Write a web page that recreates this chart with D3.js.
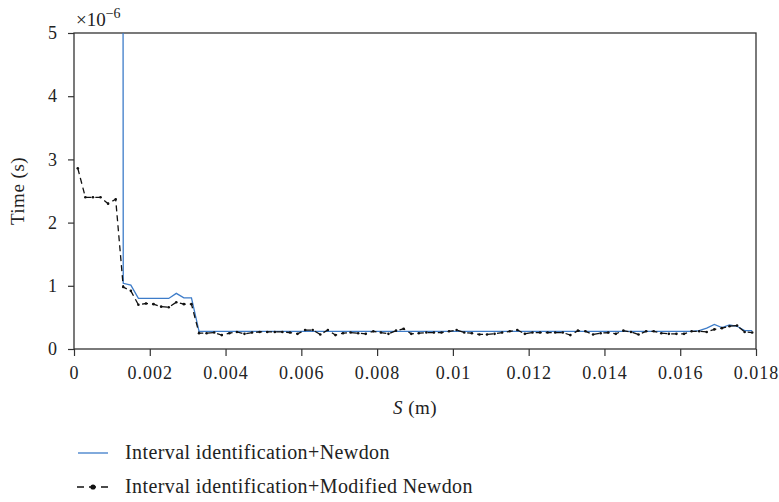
<!DOCTYPE html>
<html>
<head>
<meta charset="utf-8">
<script src="https://cdn.jsdelivr.net/npm/d3@7"></script>
<style>
body{margin:0;background:white;}
text{font-family:"Liberation Serif","DejaVu Serif",serif;fill:#222;}
</style>
</head>
<body>
<div id="chart"></div>
<script>
// S positions (m): 0.0001, 0.0003, ... 0.0179
var sValues = d3.range(90).map(function(k){return +(0.0001+0.0002*k).toFixed(4)})

// time in units of 1e-6 s, Interval identification+Newdon
var newdon = [180,176,172,170,168,165,
1.04,1.01,0.8,0.8,0.8,0.8,0.8,0.88,0.81,0.81,
0.28,0.28,0.28,0.28,0.28,0.28,0.28,0.28,0.28,0.28,
0.28,0.28,0.28,0.28,0.28,0.28,0.28,0.28,0.28,0.28,
0.28,0.28,0.28,0.28,0.28,0.28,0.28,0.28,0.28,0.28,
0.28,0.28,0.28,0.28,0.28,0.28,0.28,0.28,0.28,0.28,
0.28,0.28,0.28,0.28,0.28,0.28,0.28,0.28,0.28,0.28,
0.28,0.28,0.28,0.28,0.28,0.28,0.28,0.28,0.28,0.28,
0.28,0.28,0.28,0.28,0.28,0.28,
0.29,0.33,0.39,0.34,0.38,0.36,0.29,0.29]

// Interval identification+Modified Newdon
var modified = [2.86,2.4,2.4,2.4,2.3,2.37,
0.98,0.92,0.7,0.72,0.71,0.67,0.66,0.74,0.71,0.71,
0.25,0.25,0.26,0.22,0.25,0.27,0.24,0.26,0.27,0.27,
0.27,0.27,0.26,0.24,0.3,0.3,0.23,0.3,0.22,0.25,
0.26,0.25,0.24,0.28,0.26,0.24,0.29,0.32,0.24,0.25,
0.26,0.26,0.26,0.28,0.3,0.26,0.25,0.23,0.23,0.24,
0.26,0.28,0.3,0.24,0.26,0.26,0.26,0.26,0.26,0.22,
0.29,0.28,0.23,0.25,0.26,0.24,0.29,0.27,0.23,0.28,
0.28,0.25,0.24,0.24,0.24,0.28,0.28,0.27,0.31,0.33,
0.36,0.37,0.27,0.26]

var xTicks = [0,0.002,0.004,0.006,0.008,0.01,0.012,0.014,0.016,0.018]
var yTicks = [0,1,2,3,4,5]
var legendNames = ["Interval identification+Newdon","Interval identification+Modified Newdon"]

var W = 779, H = 502
var pLeft = 74, pRight = 756, pTop = 33, pBottom = 349
var blue = "#3d7cc9"
var axisColor = "#333"

var svg = d3.select("#chart").append("svg")
.attr("width",W)
.attr("height",H)

var x = d3.scaleLinear().domain([0,0.018]).range([pLeft,pRight])
var y = d3.scaleLinear().domain([0,5]).range([pBottom,pTop])

svg.append("clipPath").attr("id","clip")
.append("rect")
.attr("x",pLeft).attr("y",pTop)
.attr("width",pRight-pLeft).attr("height",pBottom-pTop)

// axes
var xAxis = svg.append("g")
.attr("transform","translate(0,"+pBottom+")")
.call(d3.axisBottom(x).tickValues(xTicks).tickSize(7).tickPadding(10)
.tickFormat(function(d){return d==0?"0":String(d)}))
var yAxis = svg.append("g")
.attr("transform","translate("+pLeft+",0)")
.call(d3.axisLeft(y).tickValues(yTicks).tickSize(6).tickPadding(10)
.tickFormat(d3.format("d")))
;[xAxis,yAxis].forEach(function(a){
a.select(".domain").remove()
a.selectAll("line").attr("stroke",axisColor).attr("stroke-width",1.2)
a.selectAll("text").attr("font-size",18).attr("fill","#222")
.attr("letter-spacing",1)
.style("font-family",'"Liberation Serif","DejaVu Serif",serif')
})

// frame
svg.append("rect")
.attr("x",pLeft).attr("y",pTop)
.attr("width",pRight-pLeft).attr("height",pBottom-pTop)
.attr("fill","none")
.attr("stroke",axisColor)
.attr("stroke-width",1.3)

var line1 = d3.line()
.x(function(d,i){return x(sValues[i])})
.y(function(d){return y(d)})

var plot = svg.append("g").attr("clip-path","url(#clip)")

plot.append("path")
.datum(newdon)
.attr("d",line1)
.attr("fill","none")
.attr("stroke",blue)
.attr("stroke-width",1.3)

plot.append("path")
.datum(modified)
.attr("d",line1)
.attr("fill","none")
.attr("stroke","#111")
.attr("stroke-width",1.3)
.attr("stroke-dasharray","6,4")

plot.selectAll(".dot")
.data(modified)
.enter()
.append("circle")
.attr("class","dot")
.attr("cx",function(d,i){return x(sValues[i])})
.attr("cy",function(d){return y(d)})
.attr("r",1.3)
.attr("fill","#111")

// exponent label
var expo = svg.append("text")
.attr("x",pLeft+2)
.attr("y",pTop-7)
.attr("font-size",19)
expo.append("tspan").text("\u00d710")
expo.append("tspan").attr("font-size",14).attr("dy",-8).text("\u22126")

// axis titles
svg.append("text")
.attr("transform","translate(24,"+((pTop+pBottom)/2)+") rotate(-90)")
.attr("text-anchor","middle")
.attr("font-size",19)
.attr("letter-spacing",0.5)
.text("Time (s)")

var xt = svg.append("text")
.attr("x",(pLeft+pRight)/2)
.attr("y",414)
.attr("text-anchor","middle")
.attr("font-size",19)
.attr("letter-spacing",0.5)
xt.append("tspan").attr("font-style","italic").text("S")
xt.append("tspan").text(" (m)")

// legend
var lg = svg.append("g")
lg.append("line")
.attr("x1",78).attr("x2",108).attr("y1",453).attr("y2",453)
.attr("stroke",blue).attr("stroke-width",1.3)
lg.append("line")
.attr("x1",77).attr("x2",110).attr("y1",487).attr("y2",487)
.attr("stroke","#111").attr("stroke-width",1.3)
.attr("stroke-dasharray","7,5")
lg.append("circle")
.attr("cx",93).attr("cy",487).attr("r",2.6).attr("fill","#111")
lg.selectAll(".lt")
.data(legendNames)
.enter()
.append("text")
.attr("x",125)
.attr("y",function(d,i){return 459+i*34})
.attr("font-size",20)
.attr("letter-spacing",0.4)
.text(function(d){return d})
</script>
</body>
</html>
